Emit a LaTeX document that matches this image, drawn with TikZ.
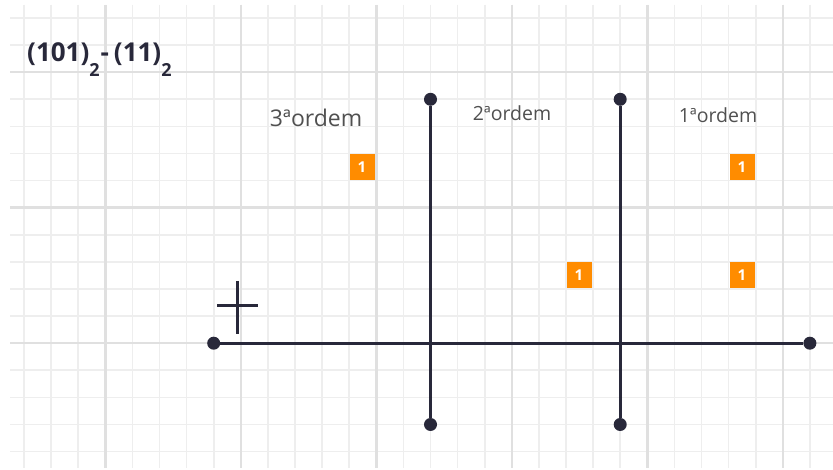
\documentclass[tikz,border=0pt]{standalone}
\usepackage{fontspec}
\setmainfont{Open Sans}
\definecolor{ink}{RGB}{40,40,58}
\definecolor{gridminor}{RGB}{238,238,238}
\definecolor{gridmajor}{RGB}{224,224,224}
\definecolor{badge}{RGB}{255,140,0}
\definecolor{labelgray}{RGB}{80,80,80}
\tikzset{
  minorline/.style={gridminor, line width=1.6pt},
  majorline/.style={gridmajor, line width=2.6pt},
  dot/.style={circle, fill=ink, inner sep=0pt, minimum size=13pt},
  bar/.style={ink, line width=3pt},
  plusline/.style={ink, line width=3pt},
  one/.style={fill=badge, text=white, inner sep=0pt, minimum width=25pt, minimum height=26pt, font=\fontsize{15}{15}\selectfont\bfseries},
  ordlabel/.style={text=labelgray, inner sep=0pt}
}
\begin{document}
\begin{tikzpicture}[x=1pt,y=-1pt]
\useasboundingbox (0,0) rectangle (833,470);
\fill[white] (0,0) rectangle (833,470);
% grid
\foreach \i in {0,...,29} {\draw[minorline] ({24+27.1*\i},5) -- ({24+27.1*\i},468);}
\foreach \j in {0,...,16} {\draw[minorline] (10,{18+27.1*\j}) -- (833,{18+27.1*\j});}
\foreach \i in {3,8,13,18,23,28} {\draw[majorline] ({24+27.1*\i},5) -- ({24+27.1*\i},468);}
\foreach \j in {2,7,12} {\draw[majorline] (10,{18+27.1*\j}) -- (833,{18+27.1*\j});}
% title expression
\node[anchor=base west, inner sep=0pt, text=ink] (expr) at (27,62)
  {\fontsize{26}{30}\selectfont\bfseries (101)\raisebox{-15pt}{\fontsize{18}{18}\selectfont 2}\kern1pt-\kern5pt(11)\raisebox{-15pt}{\fontsize{18}{18}\selectfont 2}};
% dots
\node[dot] (hl) at (213.7,343.2) {};
\node[dot] (hr) at (809.9,343.2) {};
\node[dot] (at) at (430.5,99.3) {};
\node[dot] (ab) at (430.5,424.5) {};
\node[dot] (bt) at (620.2,99.3) {};
\node[dot] (bb) at (620.2,424.5) {};
% bars
\draw[bar] (hl) -- (hr);
\draw[bar] (at) -- (ab);
\draw[bar] (bt) -- (bb);
% plus sign
\coordinate (pt) at (237,281);
\coordinate (pb) at (237,334);
\coordinate (pl) at (217,306);
\coordinate (pr) at (258,306);
\draw[plusline] (pt) -- (pb);
\draw[plusline] (pl) -- (pr);
% order labels
\node[ordlabel, font=\fontsize{23}{26}\selectfont] (o3) at (316,118) {3ªordem};
\node[ordlabel, font=\fontsize{19.5}{23}\selectfont] (o2) at (512,113) {2ªordem};
\node[ordlabel, font=\fontsize{19.5}{23}\selectfont] (o1) at (718,115) {1ªordem};
% badges
\node[one] (b1) at (362,167) {1};
\node[one] (b2) at (742,167) {1};
\node[one] (b3) at (579,275) {1};
\node[one] (b4) at (742,275) {1};
\end{tikzpicture}
\end{document}
